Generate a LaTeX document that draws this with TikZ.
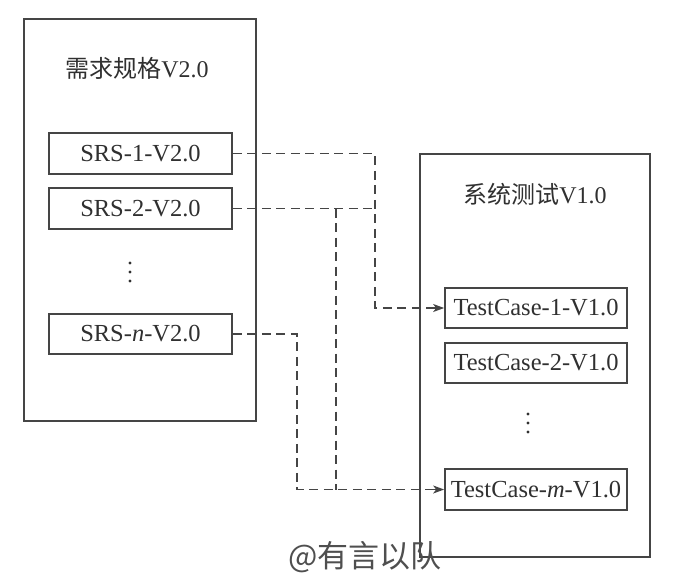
\documentclass[tikz,border=0pt]{standalone}
\usepackage{fontspec}
\setmainfont{Liberation Serif}
\newfontfamily\cjk{Noto Sans CJK SC}
\usetikzlibrary{arrows.meta}
\definecolor{ln}{HTML}{454545}
\definecolor{tx}{HTML}{303030}
\tikzset{
  outerbox/.style={draw=ln,line width=1.7pt,rectangle,inner sep=0pt},
  itembox/.style={draw=ln,line width=1.7pt,rectangle,inner sep=0pt,text=tx,font=\fontsize{24.5}{28}\selectfont},
  ttl/.style={text=tx,font=\fontsize{24}{28}\selectfont\cjk,inner sep=0pt},
  conn/.style={draw=ln,line width=1.4pt,dash pattern=on 9pt off 5.5pt},
  tipline/.style={draw=ln,line width=1.4pt,solid,-{Stealth[length=11pt,width=8pt,inset=3pt]}},
  dotmark/.style={fill=tx}
}
\begin{document}
\begin{tikzpicture}[x=1pt,y=-1pt]
\useasboundingbox (0,0) rectangle (685,582);
% outer boxes
\node[outerbox,minimum width=232pt,minimum height=402pt] (leftbox) at (140,220) {};
\node[outerbox,minimum width=230pt,minimum height=403pt] (rightbox) at (535,355.5) {};
% titles
\node[ttl] (ltitle) at (137,68) {需求规格\rmfamily V2.0};
\node[ttl] (rtitle) at (535,194) {系统测试\rmfamily V1.0};
% SRS boxes
\node[itembox,minimum width=183pt,minimum height=41pt] (srs1) at (140.5,153.5) {SRS-1-V2.0};
\node[itembox,minimum width=183pt,minimum height=41pt] (srs2) at (140.5,208.5) {SRS-2-V2.0};
\node[itembox,minimum width=183pt,minimum height=40pt] (srsn) at (140.5,334) {SRS-\textit{n}-V2.0};
% TestCase boxes
\node[itembox,minimum width=182pt,minimum height=40pt] (tc1) at (536,308) {TestCase-1-V1.0};
\node[itembox,minimum width=182pt,minimum height=40pt] (tc2) at (536,363) {TestCase-2-V1.0};
\node[itembox,minimum width=182pt,minimum height=41pt] (tcm) at (536,489.5) {TestCase-\textit{m}-V1.0};
% vertical ellipses
\fill[dotmark] (130,263) circle (1.6) (130,272) circle (1.6) (130,281) circle (1.6);
\fill[dotmark] (528,414) circle (1.6) (528,423) circle (1.6) (528,432) circle (1.6);
% junction x positions
\coordinate (j1) at (375,0);
\coordinate (j2) at (336,0);
\coordinate (j3) at (297,0);
% connectors
\draw[conn] (srs1.east) -| (j1 |- tc1.west) -- ([xshift=-10pt]tc1.west);
\draw[tipline] ([xshift=-11pt]tc1.west) -- (tc1.west);
\draw[conn] (srs2.east) -- (j1 |- srs2.east);
\draw[conn] (j2 |- srs2.east) -- (j2 |- tcm.west);
\draw[conn] (srsn.east) -| (j3 |- tcm.west) -- ([xshift=-10pt]tcm.west);
\draw[tipline] ([xshift=-11pt]tcm.west) -- (tcm.west);
% watermark
\node[text=tx!85,font=\fontsize{31}{34}\selectfont\cjk,inner sep=0pt] (wm) at (365,557) {@有言以队};
\end{tikzpicture}
\end{document}
